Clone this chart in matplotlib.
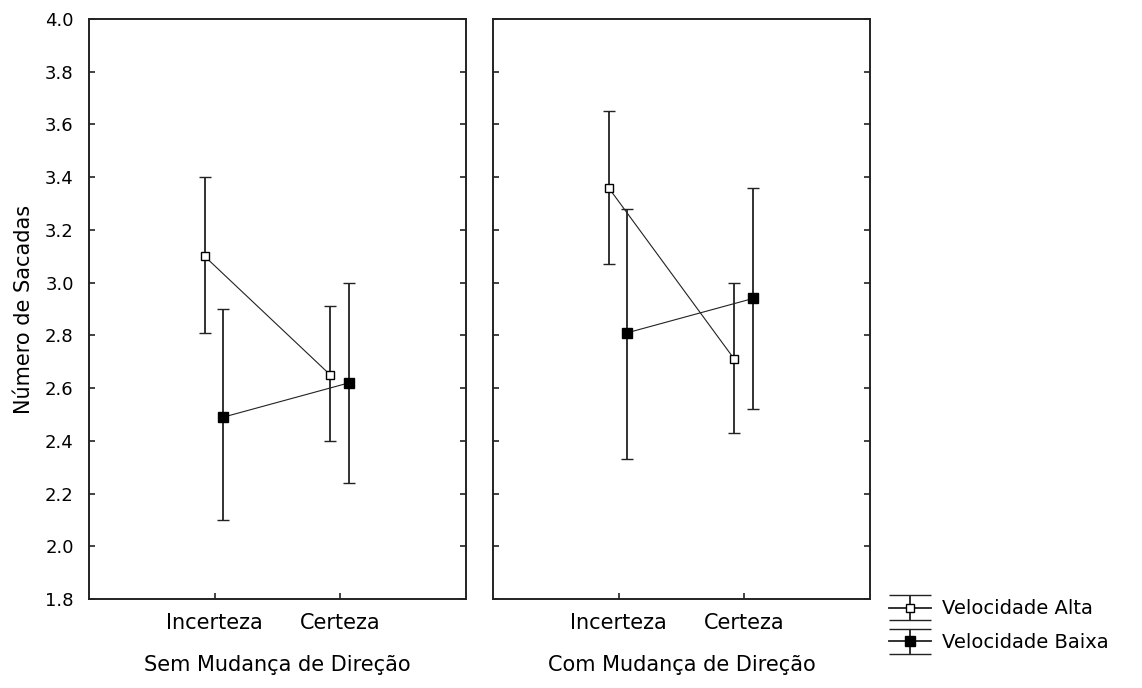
import numpy as np
import matplotlib
matplotlib.use("Agg")
import matplotlib.pyplot as plt
from matplotlib.legend_handler import HandlerErrorbar

# dados
condicoes = ["Incerteza", "Certeza"]
grupos = ["Sem Mudança de Direção", "Com Mudança de Direção"]
series = ["Velocidade Alta", "Velocidade Baixa"]

sem_alta = [3.10, 2.65]
sem_alta_lo = [2.81, 2.40]
sem_alta_hi = [3.40, 2.91]
sem_baixa = [2.49, 2.62]
sem_baixa_lo = [2.10, 2.24]
sem_baixa_hi = [2.90, 3.00]

com_alta = [3.36, 2.71]
com_alta_lo = [3.07, 2.43]
com_alta_hi = [3.65, 3.00]
com_baixa = [2.81, 2.94]
com_baixa_lo = [2.33, 2.52]
com_baixa_hi = [3.28, 3.36]

yticks = [1.8, 2.0, 2.2, 2.4, 2.6, 2.8, 3.0, 3.2, 3.4, 3.6, 3.8, 4.0]

plt.rcParams["font.family"] = ["DejaVu Sans"]
LINE = "#222222"

fig = plt.figure(figsize=(11.42, 6.88), dpi=100)
W, H = 1142, 688
ax_l = fig.add_axes([89 / W, 1 - 599 / H, 377 / W, 580 / H])
ax_r = fig.add_axes([493 / W, 1 - 599 / H, 377 / W, 580 / H])

painel = [
    (ax_l, grupos[0], (sem_alta, sem_alta_lo, sem_alta_hi), (sem_baixa, sem_baixa_lo, sem_baixa_hi)),
    (ax_r, grupos[1], (com_alta, com_alta_lo, com_alta_hi), (com_baixa, com_baixa_lo, com_baixa_hi)),
]

x = np.arange(len(condicoes))
for ax, grupo, alta, baixa in painel:
    for (m, lo, hi), dx, face, ms in [(alta, -0.08, "white", 5.5), (baixa, 0.07, "black", 6.5)]:
        m = np.array(m)
        err = [m - np.array(lo), np.array(hi) - m]
        ax.errorbar(x + dx, m, yerr=err, color=LINE, lw=0.8, elinewidth=1.3,
                    capsize=4.5, capthick=1.3, marker="s", ms=ms,
                    mfc=face, mec="black", mew=1.0, zorder=3)
    ax.set_xlim(-1, 2)
    ax.set_ylim(1.8, 4.0)
    ax.set_yticks(yticks)
    ax.set_yticklabels([f"{v:.1f}" for v in yticks])
    ax.set_xticks(x)
    ax.set_xticklabels(condicoes, fontsize=15)
    ax.tick_params(axis="y", direction="in", left=True, right=True, length=4,
                   width=1.2, color=LINE, labelsize=13, pad=11)
    ax.tick_params(axis="x", direction="in", length=4, width=1.2, color=LINE, pad=10)
    for s in ax.spines.values():
        s.set_linewidth(1.4)
        s.set_color(LINE)
    ax.set_xlabel(grupo, fontsize=15, labelpad=16)

ax_r.tick_params(axis="y", labelleft=False)
ax_l.set_ylabel("Número de Sacadas", fontsize=15, labelpad=8)

# proxies para a legenda
proxies = []
for face, ms in [("white", 5.5), ("black", 6.5)]:
    h = ax_r.errorbar([np.nan], [np.nan], yerr=[np.nan], color=LINE, lw=1.3,
                      elinewidth=1.3, capsize=15, capthick=1.3, marker="s", ms=ms,
                      mfc=face, mec="black", mew=1.0)
    proxies.append(h)

fig.legend(proxies, series, loc="lower left", bbox_to_anchor=(889 / W, 1 - 652 / H),
           frameon=False, fontsize=14, handlelength=2.15, handletextpad=0.55,
           labelspacing=0.75, borderpad=0, borderaxespad=0,
           handler_map={type(proxies[0]): HandlerErrorbar(yerr_size=0.65, numpoints=1)})

fig.savefig("out.png", dpi=100)
